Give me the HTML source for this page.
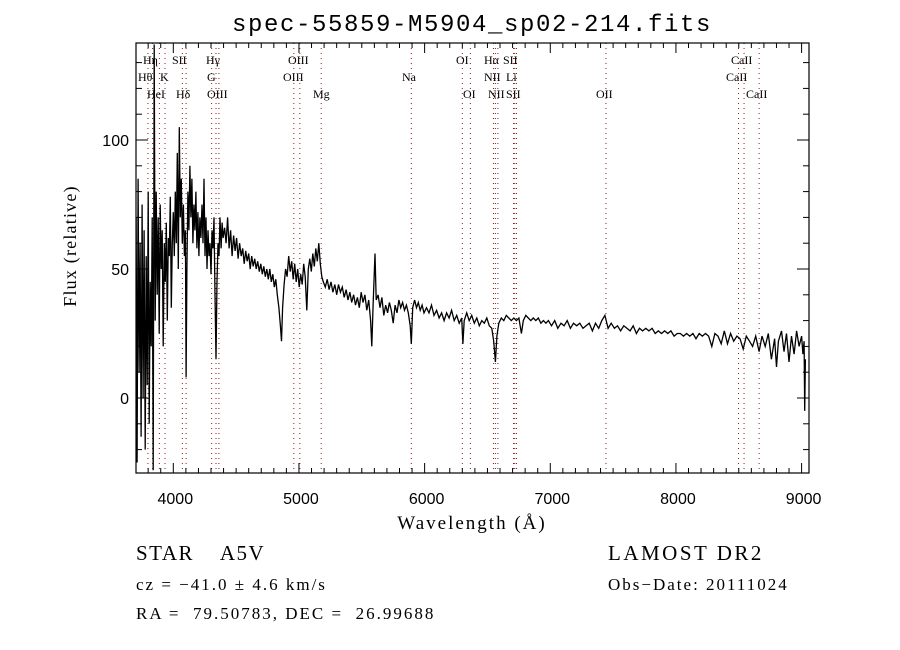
<!DOCTYPE html>
<html><head><meta charset="utf-8">
<style>
html,body{margin:0;padding:0;background:#fff;}
svg{display:block;}
text{fill:#000;}
.ser{font-family:"Liberation Serif","DejaVu Serif",serif;}
.sans{font-family:"Liberation Sans","DejaVu Sans",sans-serif;}
.mono{font-family:"Liberation Mono","DejaVu Sans Mono",monospace;}
</style></head>
<body>
<svg id="chart" width="900" height="650" viewBox="0 0 900 650" xmlns="http://www.w3.org/2000/svg">
  <text x="472" y="31" text-anchor="middle" class="mono" font-size="24" letter-spacing="1.6">spec-55859-M5904_sp02-214.fits</text>
  <g id="lines"></g>
  <g id="spec"></g>
  <g id="axes"></g>
  <text x="472" y="529" text-anchor="middle" class="ser" font-size="19" letter-spacing="2">Wavelength (Å)</text>
  <text transform="translate(76,246) rotate(-90)" text-anchor="middle" class="ser" font-size="18" letter-spacing="1.2">Flux (relative)</text>
  <text x="136" y="560" class="ser" font-size="21" letter-spacing="1.5" xml:space="preserve">STAR    A5V</text>
  <text x="608" y="560" class="ser" font-size="21" letter-spacing="2.5">LAMOST DR2</text>
  <text x="136" y="590" class="ser" font-size="17" letter-spacing="2">cz = −41.0 ± 4.6 km/s</text>
  <text x="608" y="590" class="ser" font-size="17" letter-spacing="2">Obs−Date: 20111024</text>
  <text x="136" y="619" class="ser" font-size="17" letter-spacing="2" xml:space="preserve">RA =  79.50783, DEC =  26.99688</text>
</svg>
<script>
const wavelengths = [3680,3688,3696,3704,3712,3720,3728,3736,3744,3752,3760,3768,3776,3784,3792,3800,3808,3816,3824,3832,3840,3848,3856,3864,3872,3880,3888,3896,3904,3912,3920,3928,3936,3944,3952,3960,3968,3976,3984,3992,4000,
4008,4016,4024,4032,4040,4048,4056,4064,4072,4080,4088,4096,4102,4108,4116,4124,4132,4140,4148,4156,4164,4172,4180,4188,4196,4204,4212,4220,4228,4236,4244,4252,4260,4268,4276,4284,4292,4300,4308,4316,4324,4332,4340,4348,4356,4364,4372,4380,4388,4396,
4408,4420,4432,4444,4456,4468,4480,4492,4504,4516,4528,4540,4552,4564,4576,4588,4600,4612,4624,4636,4648,4660,4672,4684,4696,4708,4720,4732,4744,4756,4768,4780,4792,4804,4816,4828,4840,4852,4861,4870,4882,4894,4906,4918,4930,4942,4954,4966,4978,4990,5002,5014,5026,5038,5050,5062,5074,5086,5098,5110,5122,5134,5146,5158,5170,5182,5194,
5210,5225,5240,5255,5270,5285,5300,5315,5330,5345,5360,5375,5390,5405,5420,5435,5450,5465,5480,5495,5510,5525,5540,5555,5570,5580,5590,5605,5615,5630,5645,5660,5675,5690,5705,5720,5735,5750,5765,5780,5795,5810,5825,5840,5855,5870,5885,5894,5905,5920,5935,5950,5965,5980,5995,
6015,6035,6055,6075,6095,6115,6135,6155,6175,6195,6215,6235,6255,6275,6295,6305,6315,6335,6355,6375,6395,6415,6435,6455,6475,6495,6515,6535,6550,6563,6575,6590,6610,6630,6650,6670,6690,6710,6730,6750,6770,6785,6805,6825,6845,6865,6885,6905,6925,6945,6965,6985,
7010,7035,7060,7085,7110,7135,7160,7185,7210,7235,7260,7285,7310,7335,7360,7385,7410,7435,7460,7485,7510,7535,7560,7585,7610,7635,7660,7685,7710,7735,7760,7785,7810,7835,7860,7885,7910,7935,7960,7985,8010,8035,8060,8085,8110,8135,8160,8185,8210,8235,8260,8285,8310,8335,8360,8385,8410,8435,8460,8485,8510,8535,8560,8585,8610,8635,8662,8685,8710,8735,8760,8785,8800,8815,8840,8860,8880,8900,8920,8940,8960,8980,9000,9010,9020,9025,9030];
const fluxValues = [30,80,-20,70,-25,85,10,60,-15,75,0,65,-20,55,5,80,-10,45,20,70,-28,137,30,80,40,70,25,75,50,65,20,60,45,68,30,62,55,78,35,60,72,
55,80,60,95,50,105,70,85,60,75,55,65,8,50,80,65,90,70,85,60,75,65,80,58,72,55,70,62,75,60,85,55,70,50,65,55,60,48,65,58,70,40,15,45,60,55,70,58,68,62,
66,60,70,58,65,55,63,57,62,54,60,55,58,52,57,53,56,50,55,51,54,50,53,49,52,48,51,47,50,46,50,45,48,43,46,40,35,28,22,35,44,50,47,55,49,53,46,52,45,50,43,48,44,52,47,34,50,54,49,56,51,58,53,60,52,47,45,
43,46,42,45,41,44,40,44,41,43,39,42,38,41,37,40,36,39,35,41,37,40,34,38,30,20,36,56,38,40,35,39,32,36,33,37,34,29,36,33,38,35,37,34,36,33,28,21,35,38,35,37,34,36,33,
35,33,36,32,34,31,33,30,33,31,34,30,32,29,31,21,30,33,30,32,29,31,28,30,29,31,28,27,22,14,24,29,31,30,32,31,30,31,30,31,25,30,32,31,30,31,30,31,29,30,29,30,
28,30,27,29,28,30,27,29,28,29,27,28,29,26,29,27,30,32,27,29,27,28,26,28,27,26,28,25,27,26,27,26,27,25,26,25,26,25,26,24,25,25,24,25,24,25,23,25,24,25,24,20,25,24,21,26,21,25,22,24,23,19,24,22,20,24,18,24,20,25,15,23,12,22,26,18,25,14,24,17,26,20,24,17,22,-5,15];
const xTickValues = [4000,5000,6000,7000,8000,9000];
const xTickLabels = ["4000","5000","6000","7000","8000","9000"];
const yTickValues = [0,50,100];
const yTickLabels = ["0","50","100"];
const lineWaves = [3798,3835,3889,3934,4072,4102,4305,4340,4363,4959,5007,5177,5894,6300,6364,6548,6563,6583,6708,6717,6731,7443,8498,8542,8662];
const lineLabels = ["Hη","Hθ","HeI","K","SII","Hδ","Hγ","G","OIII","OIII","OIII","Mg","Na","OI","OI","Hα","NII","NII","Li","SII","SII","OII","CaII","CaII","CaII"];
const lineLabelX = [143,138,147,160,172,176,206,207,207,288,283,313,402,456,463,484,484,488,506,503,506,596,731,726,746];
const lineLabelRow = [0,1,2,1,0,2,0,1,2,0,1,2,1,0,2,0,1,2,1,0,2,2,0,1,2];

const L=136,R=809,T=43,B=473;
const xScale = w => 173.3 + (w-4000)*0.12566;
const yScale = f => 398 - f*2.58;
const NS="http://www.w3.org/2000/svg";
function mk(tag, attrs, parent){const e=document.createElementNS(NS,tag);for(const k in attrs)e.setAttribute(k,attrs[k]);parent.appendChild(e);return e;}
const svg=document.getElementById('chart');
const defs=mk('defs',{},svg);
const cp=mk('clipPath',{id:'pc'},defs);
mk('rect',{x:L,y:T,width:R-L,height:B-T},cp);

const lg=document.getElementById('lines');
lineWaves.forEach((w,i)=>{
  const x=xScale(w);
  const ln=mk('line',{x1:x,x2:x,y1:T,y2:B,stroke:'#8b1a1a','stroke-width':1,'stroke-dasharray':'1,4'},lg);
  
  
});
lineLabels.forEach((lab,i)=>{
  const t=mk('text',{x:lineLabelX[i],y:64+lineLabelRow[i]*17,'font-size':12,'class':'ser'},lg);
  t.textContent=lab;
  
  
});

const sg=document.getElementById('spec');
const pts=wavelengths.map((w,i)=>xScale(w).toFixed(1)+','+yScale(fluxValues[i]).toFixed(1)).join(' ');
const pl=mk('polyline',{points:pts,fill:'none',stroke:'#000','stroke-width':1.3,'clip-path':'url(#pc)','stroke-linejoin':'miter'},sg);



const ag=document.getElementById('axes');
const box=mk('rect',{x:L,y:T,width:R-L,height:B-T,fill:'none',stroke:'#000','stroke-width':1.2},ag);


for(let w=3700;w<=9000;w+=100){
  const x=xScale(w); if(x<L||x>R) continue;
  const len=(w%1000===0)?10:5;
  mk('line',{x1:x,x2:x,y1:B,y2:B-len,stroke:'#000'},ag);
  mk('line',{x1:x,x2:x,y1:T,y2:T+len,stroke:'#000'},ag);
}
for(let f=-20;f<=130;f+=10){
  const y=yScale(f); if(y<T||y>B) continue;
  const len=(f%50===0)?12:6;
  mk('line',{x1:L,x2:L+len,y1:y,y2:y,stroke:'#000'},ag);
  mk('line',{x1:R,x2:R-len,y1:y,y2:y,stroke:'#000'},ag);
}
xTickValues.forEach((v,i)=>{
  const t=mk('text',{x:xScale(v)+2,y:504,'text-anchor':'middle','font-size':16,'class':'sans'},ag);
  t.textContent=xTickLabels[i];
  
  
});
yTickValues.forEach((v,i)=>{
  const t=mk('text',{x:129,y:yScale(v)+6,'text-anchor':'end','font-size':16,'class':'sans'},ag);
  t.textContent=yTickLabels[i];
  
  
});
</script>
</body></html>
